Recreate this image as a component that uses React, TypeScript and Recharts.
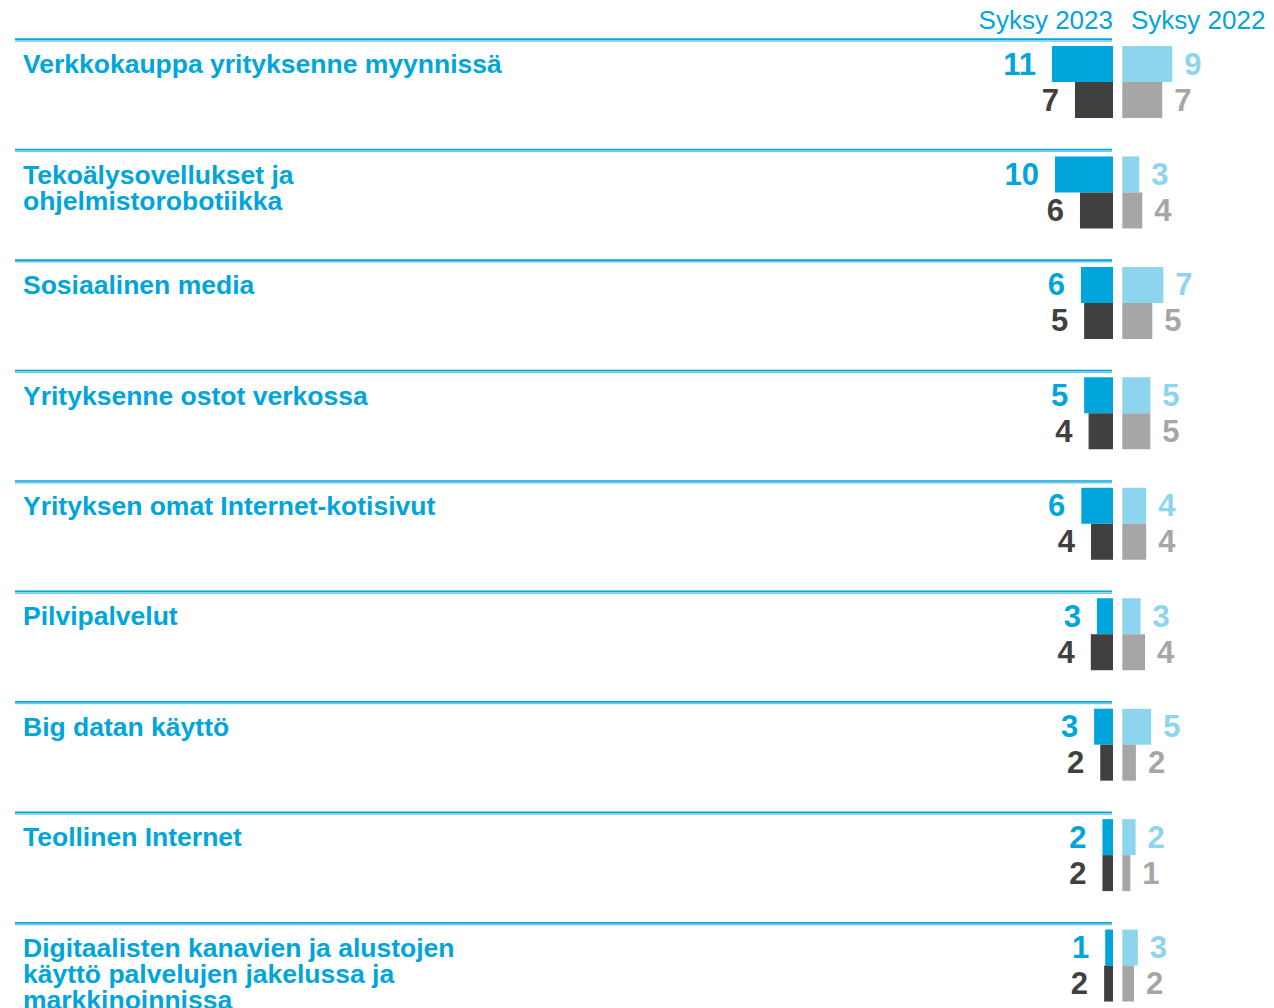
import React from 'react';
import { ComposedChart, Bar, XAxis, YAxis, LabelList, Customized } from 'recharts';

// ---------- data ----------
const categories = [
  'Verkkokauppa yrityksenne myynnissä',
  'Tekoälysovellukset ja\nohjelmistorobotiikka',
  'Sosiaalinen media',
  'Yrityksenne ostot verkossa',
  'Yrityksen omat Internet-kotisivut',
  'Pilvipalvelut',
  'Big datan käyttö',
  'Teollinen Internet',
  'Digitaalisten kanavien ja alustojen\nkäyttö palvelujen jakelussa ja\nmarkkinoinnissa',
];
const periodLabels = ['Syksy 2023', 'Syksy 2022'];
const autumn2023Upper = [11.0, 10.45, 5.77, 5.2, 5.7, 2.9, 3.4, 1.9, 1.4];
const autumn2023Lower = [6.85, 5.95, 5.2, 4.4, 3.96, 4.0, 2.3, 1.9, 1.6];
const autumn2022Upper = [9.0, 3.06, 7.4, 5.05, 4.3, 3.3, 5.2, 2.4, 2.8];
const autumn2022Lower = [7.2, 3.6, 5.4, 5.05, 4.3, 4.1, 2.45, 1.45, 2.1];

const rows = categories.map((name, i) => ({
  name,
  up23: autumn2023Upper[i],
  low23: autumn2023Lower[i],
  up22: autumn2022Upper[i],
  low22: autumn2022Lower[i],
}));

// ---------- style ----------
const BLUE = '#00A5DB';
const LIGHT_BLUE = '#8DD5EE';
const DARK = '#404040';
const GRAY = '#A6A6A6';
const RULE_LIGHT = '#6CC8EA';
const FONT = '"Liberation Sans", Arial, Helvetica, sans-serif';

const W = 1274;
const H = 1021;
const PLOT_LEFT = 15;
const AXIS_W = 1;
const PX_PER_UNIT = 5.55;
const ZERO_23 = 1113;
const ZERO_22 = 1122.3;
const DOMAIN_23 = [-(W - ZERO_23) / PX_PER_UNIT, (ZERO_23 - PLOT_LEFT) / PX_PER_UNIT];
const DOMAIN_22 = [-(ZERO_22 - PLOT_LEFT) / PX_PER_UNIT, (W - ZERO_22) / PX_PER_UNIT];

const num = (v: any) => (v === undefined || v === null ? NaN : Number(v));

const getBox = (props: any) => {
  let x = num(props.x);
  let y = num(props.y);
  let w = num(props.width);
  let h = num(props.height);
  if (!isFinite(x) && props.viewBox) {
    x = num(props.viewBox.x);
    y = num(props.viewBox.y);
    w = num(props.viewBox.width);
    h = num(props.viewBox.height);
  }
  return { x, y, w, h };
};

const leftLabel = (color: string) => (props: any) => {
  const { x, y, w, h } = getBox(props);
  const left = Math.min(x, x + w);
  return (
    <text
      x={left - 16}
      y={y + h / 2 + 10.5}
      textAnchor="end"
      fill={color}
      fontSize={31}
      fontWeight="bold"
      fontFamily={FONT}
    >
      {Math.round(Number(props.value))}
    </text>
  );
};

const rightLabel = (color: string) => (props: any) => {
  const { x, y, w, h } = getBox(props);
  const right = Math.max(x, x + w);
  return (
    <text
      x={right + 12}
      y={y + h / 2 + 10.5}
      textAnchor="start"
      fill={color}
      fontSize={31}
      fontWeight="bold"
      fontFamily={FONT}
    >
      {Math.round(Number(props.value))}
    </text>
  );
};

const CategoryTick = (props: any) => {
  const { y, payload } = props;
  const lines = String(payload && payload.value !== undefined ? payload.value : '').split('\n');
  const ruleY = Number(y) - 43;
  return (
    <g>
      <line x1={15} x2={1112} y1={ruleY} y2={ruleY} stroke={BLUE} strokeWidth={1.7} />
      <line x1={15} x2={1112} y1={ruleY + 1.7} y2={ruleY + 1.7} stroke={RULE_LIGHT} strokeWidth={1.5} />
      <text x={23} y={ruleY + 34} fill={BLUE} fontSize={26.5} fontWeight="bold" fontFamily={FONT}>
        {lines.map((l, i) => (
          <tspan key={i} x={23} dy={i === 0 ? 0 : 26}>
            {l}
          </tspan>
        ))}
      </text>
    </g>
  );
};

const Header = () => (
  <g>
    <text x={ZERO_23} y={28.5} textAnchor="end" fill={BLUE} fontSize={26} fontFamily={FONT}>
      {periodLabels[0]}
    </text>
    <text x={1131} y={28.5} textAnchor="start" fill={BLUE} fontSize={26} fontFamily={FONT}>
      {periodLabels[1]}
    </text>
  </g>
);

export default function App() {
  return (
    <div
      style={{
        position: 'fixed',
        left: 0,
        top: 0,
        width: W,
        height: 1008,
        overflow: 'hidden',
        background: '#ffffff',
      }}
    >
      <ComposedChart
        width={W}
        height={H}
        data={rows}
        layout="vertical"
        margin={{ top: 27, right: 0, bottom: 0, left: PLOT_LEFT - AXIS_W }}
        barGap={0}
        barCategoryGap={0}
      >
        <XAxis xAxisId="y23" type="number" domain={DOMAIN_23} allowDataOverflow reversed hide />
        <XAxis xAxisId="y22" type="number" domain={DOMAIN_22} allowDataOverflow hide />
        <YAxis
          yAxisId="y23"
          type="category"
          dataKey="name"
          width={AXIS_W}
          axisLine={false}
          tickLine={false}
          interval={0}
          tick={(p: any) => <CategoryTick {...p} />}
        />
        <YAxis yAxisId="y22" type="category" dataKey="name" hide />

        <Bar xAxisId="y23" yAxisId="y23" dataKey="up23" fill={BLUE} barSize={36} isAnimationActive={false}>
          <LabelList dataKey="up23" content={leftLabel(BLUE)} />
        </Bar>
        <Bar xAxisId="y23" yAxisId="y23" dataKey="low23" fill={DARK} barSize={36} isAnimationActive={false}>
          <LabelList dataKey="low23" content={leftLabel(DARK)} />
        </Bar>
        <Bar xAxisId="y22" yAxisId="y22" dataKey="up22" fill={LIGHT_BLUE} barSize={36} isAnimationActive={false}>
          <LabelList dataKey="up22" content={rightLabel(LIGHT_BLUE)} />
        </Bar>
        <Bar xAxisId="y22" yAxisId="y22" dataKey="low22" fill={GRAY} barSize={36} isAnimationActive={false}>
          <LabelList dataKey="low22" content={rightLabel(GRAY)} />
        </Bar>
        <Customized component={<Header />} />
      </ComposedChart>
    </div>
  );
}
